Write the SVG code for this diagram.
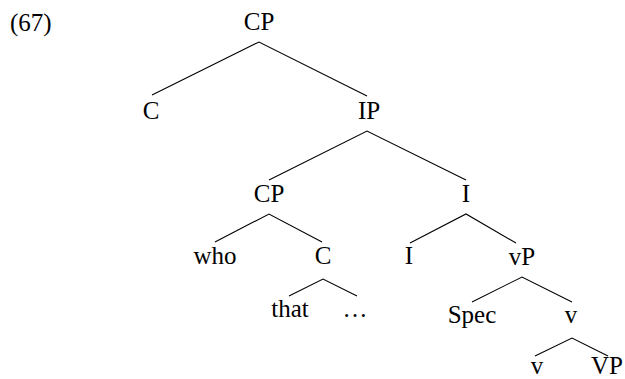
<svg xmlns="http://www.w3.org/2000/svg" width="625" height="379" viewBox="0 0 625 379">
<style>
text{font-family:"Liberation Serif","Times New Roman",serif;font-size:25px;fill:#000;text-anchor:middle}
.e{stroke:#000;stroke-width:1.1;fill:none}
</style>
<rect width="625" height="379" fill="#fff"/>
<text x="10" y="31" style="text-anchor:start">(67)</text>
<g id="connectors">
<path class="e" d="M152,95 L259,42 L367,96"/>
<path class="e" d="M269,180 L367,131 L466,180"/>
<path class="e" d="M215,242 L269,214 L322,242"/>
<path class="e" d="M410,243 L466,214 L516,243"/>
<path class="e" d="M289,296 L323,279 L357,296"/>
<path class="e" d="M472,302 L522,277 L572,302"/>
<path class="e" d="M535,356 L572,338 L608,356"/>
</g>
<g id="n-cp"><text x="259" y="30">CP</text></g>
<g id="n-c"><text x="151" y="119">C</text></g>
<g id="n-ip"><text x="369" y="119">IP</text></g>
<g id="n-cp2"><text x="269" y="202">CP</text></g>
<g id="n-ibar"><text x="466" y="202">I</text></g>
<g id="n-who"><text x="215" y="264">who</text></g>
<g id="n-cbar"><text x="323" y="264">C</text></g>
<g id="n-i"><text x="409" y="264">I</text></g>
<g id="n-vp"><text x="522" y="265">vP</text></g>
<g id="n-that"><text x="290" y="317">that</text></g>
<g id="n-dots"><text x="355" y="317">…</text></g>
<g id="n-spec"><text x="472" y="323">Spec</text></g>
<g id="n-vbar"><text x="571" y="323">v</text></g>
<g id="n-v"><text x="537" y="374">v</text></g>
<g id="n-VP"><text x="607" y="374">VP</text></g>
</svg>
